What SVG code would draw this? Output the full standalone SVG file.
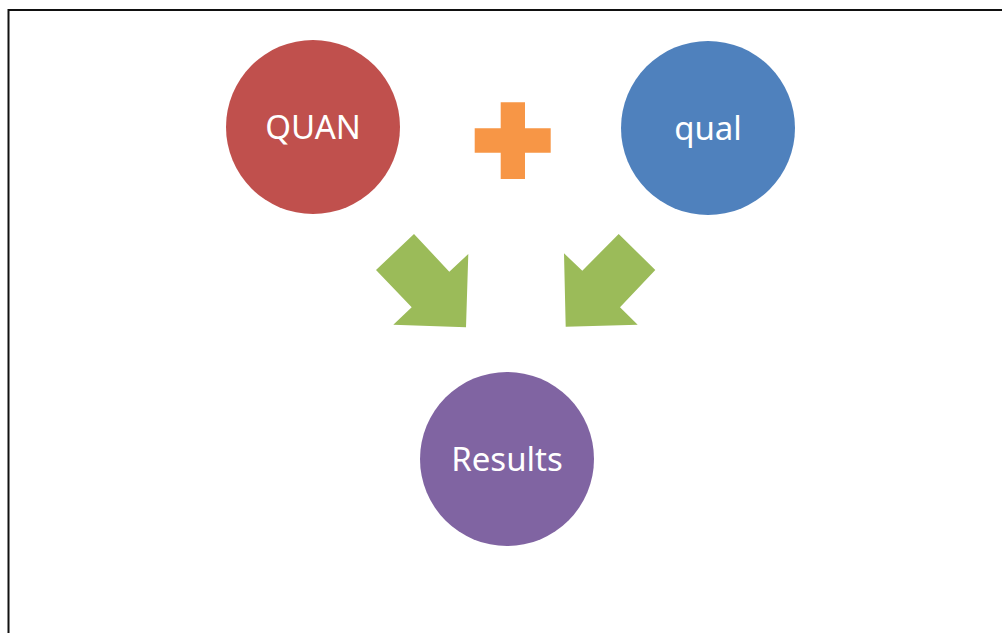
<svg xmlns="http://www.w3.org/2000/svg" width="1002" height="633" viewBox="0 0 1002 633">
<style>
.lbl{font-family:"Noto Sans","Open Sans",sans-serif;font-size:33px;fill:#ffffff;text-anchor:middle}
</style>
<rect x="0" y="0" width="1002" height="633" fill="#ffffff"/>
<rect x="8.5" y="10" width="1010" height="640" fill="none" stroke="#111111" stroke-width="2"/>
<g id="quan">
<circle cx="313" cy="127" r="87" fill="#C0504D"/>
<text class="lbl" x="313" y="138.5">QUAN</text>
</g>
<g id="plus">
<polygon points="500.7,102.3 525,102.3 525,128.3 550.7,128.3 550.7,152.7 525,152.7 525,179 500.7,179 500.7,152.7 474.7,152.7 474.7,128.3 500.7,128.3" fill="#F79646"/>
</g>
<g id="qual">
<circle cx="708" cy="128" r="87" fill="#4F81BD"/>
<text class="lbl" x="708" y="139.5">qual</text>
</g>
<g id="results">
<circle cx="507" cy="459" r="87" fill="#8064A2"/>
<text class="lbl" x="507" y="471">Results</text>
</g>
<g id="connectors">
<polygon points="414,234 449.3,271.7 468.3,254 466,327.3 393.3,324.7 411.7,307.3 376,270" fill="#9BBB59"/>
<polygon points="618.7,234 655.3,270 620,307.3 637.7,324.7 565.7,326.7 564,253.3 582.3,270.7" fill="#9BBB59"/>
</g>
</svg>
